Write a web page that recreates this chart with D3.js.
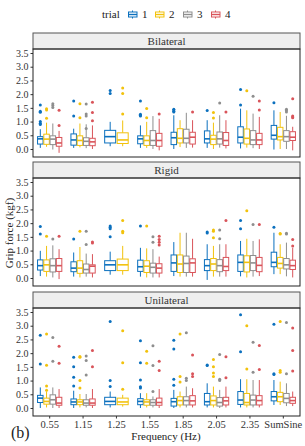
<!DOCTYPE html>
<meta charset="utf-8">
<style>
body { margin: 0; background: #fff; }
text { font-family: "Liberation Serif", "DejaVu Serif", serif; fill: #222; }
.strip text { font-size: 11px; fill: #333; }
.yaxis text { font-size: 10px; fill: #333; }
.xaxis text { font-size: 10.5px; fill: #333; }
</style>
<svg width="305" height="446"></svg>
<script src="https://cdnjs.cloudflare.com/ajax/libs/d3/7.8.5/d3.min.js"></script>
<script>
// categories and trials
var freqs = ["0.55", "1.15", "1.25", "1.55", "1.85", "2.05", "2.35", "SumSine"];
var trials = [1, 2, 3, 4];
var colors = ["#0b70be", "#f2c20c", "#8e8e8e", "#d9545a"];
var conditions = ["Bilateral", "Rigid", "Unilateral"];
var yTicks = [0, 0.5, 1, 1.5, 2, 2.5, 3, 3.5];

// rows: [freq, trial, whiskerLow, q1, median, q3, whiskerHigh, outliers]
var bilateral = [
  ["0.55", 1, 0.04, 0.18, 0.37, 0.45, 0.72, [1.6, 1.38, 1.34, 1.0, 0.94, 0.89]],
  ["0.55", 2, 0.08, 0.17, 0.36, 0.54, 0.96, [1.47, 1.42, 1.12]],
  ["0.55", 3, -0.02, 0.16, 0.36, 0.48, 0.93, [1.65, 1.59, 1.51]],
  ["0.55", 4, -0.14, 0.1, 0.22, 0.42, 0.66, [1.41, 0.86]],
  ["1.15", 1, 0.04, 0.14, 0.33, 0.55, 0.74, [1.75, 1.2]],
  ["1.15", 2, 0.06, 0.13, 0.31, 0.48, 0.93, [1.65, 1.14]],
  ["1.15", 3, 0.03, 0.13, 0.28, 0.41, 0.9, [1.64, 1.28, 1.2, 0.75]],
  ["1.15", 4, 0.0, 0.12, 0.26, 0.39, 0.86, [1.7, 1.33, 1.03]],
  ["1.25", 1, 0.1, 0.22, 0.45, 0.68, 0.99, [2.13, 2.02]],
  ["1.25", 2, 0.1, 0.2, 0.33, 0.59, 1.04, [2.22, 2.02, 1.28]],
  ["1.55", 1, 0.04, 0.19, 0.37, 0.48, 0.86, [1.75, 1.27, 1.23, 1.2]],
  ["1.55", 2, 0.04, 0.13, 0.31, 0.48, 0.99, [1.48, 1.14]],
  ["1.55", 3, 0.0, 0.13, 0.31, 0.67, 1.2, []],
  ["1.55", 4, -0.05, 0.1, 0.31, 0.57, 1.1, [1.28]],
  ["1.85", 1, 0.0, 0.16, 0.41, 0.61, 1.23, [1.45, 1.42, 1.38, 1.35]],
  ["1.85", 2, 0.07, 0.22, 0.39, 0.74, 1.05, []],
  ["1.85", 3, 0.04, 0.22, 0.39, 0.72, 1.32, []],
  ["1.85", 4, 0.05, 0.18, 0.43, 0.61, 1.05, [1.35]],
  ["2.05", 1, 0.04, 0.22, 0.37, 0.66, 1.05, [1.4]],
  ["2.05", 2, 0.0, 0.16, 0.36, 0.5, 0.96, [1.33, 1.13]],
  ["2.05", 3, 0.05, 0.18, 0.37, 0.62, 1.23, [1.68]],
  ["2.05", 4, 0.02, 0.13, 0.31, 0.6, 1.05, [1.35]],
  ["2.35", 1, 0.02, 0.22, 0.43, 0.81, 1.47, [2.17, 1.6]],
  ["2.35", 2, 0.05, 0.18, 0.39, 0.73, 1.41, [2.12]],
  ["2.35", 3, 0.03, 0.16, 0.33, 0.67, 1.29, [1.92]],
  ["2.35", 4, 0.0, 0.16, 0.33, 0.57, 1.17, [1.75, 1.42]],
  ["SumSine", 1, -0.02, 0.36, 0.5, 0.86, 1.41, [1.69]],
  ["SumSine", 2, 0.0, 0.33, 0.45, 0.79, 1.35, []],
  ["SumSine", 3, 0.0, 0.28, 0.45, 0.67, 1.21, [1.45, 1.4, 1.35]],
  ["SumSine", 4, -0.05, 0.31, 0.43, 0.63, 0.81, [1.83, 1.2, 1.17, 1.14]]
];

var rigid = [
  ["0.55", 1, 0.07, 0.29, 0.45, 0.66, 0.99, [1.88, 1.6]],
  ["0.55", 2, 0.05, 0.24, 0.48, 0.66, 1.17, [1.52]],
  ["0.55", 3, 0.02, 0.22, 0.45, 0.7, 1.19, [1.42]],
  ["0.55", 4, -0.04, 0.24, 0.45, 0.71, 1.05, [1.52]],
  ["1.15", 1, 0.05, 0.23, 0.36, 0.59, 0.93, [1.42]],
  ["1.15", 2, 0.02, 0.17, 0.36, 0.63, 1.13, [1.7]],
  ["1.15", 3, 0.05, 0.18, 0.31, 0.51, 0.89, [1.7, 1.22]],
  ["1.15", 4, 0.02, 0.18, 0.43, 0.48, 0.87, [1.31, 1.28]],
  ["1.25", 1, 0.12, 0.27, 0.48, 0.63, 0.96, [1.9, 1.85, 1.8, 1.5]],
  ["1.25", 2, 0.12, 0.27, 0.48, 0.69, 1.17, [2.1, 1.7, 1.65]],
  ["1.55", 1, 0.05, 0.24, 0.41, 0.65, 1.1, [1.9]],
  ["1.55", 2, 0.02, 0.2, 0.43, 0.63, 1.08, [1.9]],
  ["1.55", 3, 0.02, 0.18, 0.39, 0.54, 1.05, [1.5, 1.3]],
  ["1.55", 4, 0.02, 0.18, 0.36, 0.52, 0.78, [1.52, 1.4, 1.3, 1.2]],
  ["1.85", 1, 0.07, 0.24, 0.55, 0.84, 1.31, []],
  ["1.85", 2, 0.05, 0.2, 0.51, 0.84, 1.65, []],
  ["1.85", 3, 0.05, 0.2, 0.53, 0.8, 1.65, []],
  ["1.85", 4, 0.05, 0.2, 0.55, 0.7, 1.43, []],
  ["2.05", 1, -0.07, 0.27, 0.45, 0.67, 1.23, [1.68, 1.64]],
  ["2.05", 2, 0.05, 0.27, 0.51, 0.71, 1.17, [1.75, 1.7, 1.47]],
  ["2.05", 3, 0.05, 0.23, 0.45, 0.67, 1.23, [1.75, 1.43]],
  ["2.05", 4, 0.05, 0.27, 0.42, 0.75, 1.23, [2.1]],
  ["2.35", 1, 0.06, 0.24, 0.57, 0.84, 1.35, [2.1, 1.8]],
  ["2.35", 2, 0.02, 0.22, 0.57, 0.81, 1.43, [2.45]],
  ["2.35", 3, 0.05, 0.27, 0.55, 0.82, 1.35, [1.95]],
  ["2.35", 4, 0.07, 0.23, 0.46, 0.75, 1.41, [1.95]],
  ["SumSine", 1, 0.14, 0.41, 0.57, 0.94, 1.65, [1.85]],
  ["SumSine", 2, 0.14, 0.36, 0.53, 0.75, 1.23, [1.62, 1.6]],
  ["SumSine", 3, 0.06, 0.33, 0.48, 0.71, 1.29, [1.63, 1.6]],
  ["SumSine", 4, 0.02, 0.31, 0.45, 0.65, 1.1, [1.4, 1.17]]
];

var unilateral = [
  ["0.55", 1, 0.0, 0.2, 0.36, 0.46, 0.75, [2.65, 1.6]],
  ["0.55", 2, 0.02, 0.14, 0.24, 0.36, 0.6, [2.7, 1.56, 0.8, 0.65]],
  ["0.55", 3, 0.0, 0.14, 0.3, 0.48, 0.75, [2.57, 1.7]],
  ["0.55", 4, 0.0, 0.1, 0.18, 0.39, 0.69, [2.25, 1.63]],
  ["1.15", 1, 0.0, 0.12, 0.22, 0.33, 0.63, [1.85, 1.5, 1.12, 0.8]],
  ["1.15", 2, 0.02, 0.12, 0.22, 0.3, 0.51, [1.88, 1.85, 1.0, 0.73]],
  ["1.15", 3, 0.02, 0.1, 0.18, 0.3, 0.51, [1.9, 1.73, 1.2]],
  ["1.15", 4, 0.0, 0.1, 0.18, 0.33, 0.69, [2.1, 1.5]],
  ["1.25", 1, 0.02, 0.12, 0.24, 0.39, 0.6, [3.15, 1.0, 0.78]],
  ["1.25", 2, 0.05, 0.12, 0.22, 0.36, 0.48, [2.82, 1.65, 0.68]],
  ["1.55", 1, 0.0, 0.12, 0.24, 0.34, 0.54, [2.45, 1.65, 1.02, 0.77, 0.73]],
  ["1.55", 2, 0.02, 0.1, 0.22, 0.3, 0.54, [2.07, 1.63]],
  ["1.55", 3, 0.02, 0.1, 0.2, 0.3, 0.42, [2.27, 1.55, 0.6]],
  ["1.55", 4, 0.0, 0.1, 0.2, 0.36, 0.69, [1.7, 1.37]],
  ["1.85", 1, 0.0, 0.07, 0.23, 0.35, 0.66, [2.47, 2.15, 1.05, 0.83]],
  ["1.85", 2, 0.02, 0.11, 0.27, 0.41, 0.6, [2.7, 1.15, 0.95]],
  ["1.85", 3, 0.02, 0.11, 0.27, 0.41, 0.78, [2.74, 1.08, 1.0]],
  ["1.85", 4, 0.02, 0.11, 0.26, 0.45, 0.72, [1.93, 1.25, 1.15]],
  ["2.05", 1, 0.02, 0.11, 0.23, 0.53, 0.9, [1.57, 1.55]],
  ["2.05", 2, 0.02, 0.11, 0.27, 0.44, 0.78, [1.77, 1.5, 1.28, 1.15]],
  ["2.05", 3, 0.0, 0.07, 0.2, 0.38, 0.66, [1.95, 1.05, 1.0]],
  ["2.05", 4, 0.02, 0.11, 0.26, 0.39, 0.78, [1.87, 1.1]],
  ["2.35", 1, 0.02, 0.13, 0.29, 0.6, 1.05, [3.4, 2.05]],
  ["2.35", 2, 0.02, 0.11, 0.2, 0.53, 1.05, [3.0, 1.42]],
  ["2.35", 3, 0.02, 0.11, 0.29, 0.47, 1.02, [2.4, 1.3]],
  ["2.35", 4, 0.02, 0.11, 0.27, 0.45, 1.02, [2.28, 1.4]],
  ["SumSine", 1, 0.11, 0.26, 0.41, 0.6, 1.02, [3.05, 1.25, 1.22]],
  ["SumSine", 2, 0.11, 0.23, 0.41, 0.57, 0.96, [3.15, 1.37, 1.3]],
  ["SumSine", 3, 0.07, 0.19, 0.35, 0.53, 0.9, [3.12, 1.25]],
  ["SumSine", 4, 0.07, 0.17, 0.27, 0.39, 0.6, [2.92, 2.1, 1.35]]
];

var panelData = [bilateral, rigid, unilateral];

var svg = d3.select("svg");
var left = 33, right = 300;
var stripTops = [33, 162, 292], stripH = 16, panelH = 108;

var x = d3.scaleBand().domain(freqs).range([left, right]).padding(0);

// legend
var leg = svg.append("g");
leg.append("text").attr("x", 102).attr("y", 18).style("font-size", "11px").text("trial");
var legX = [128, 155, 183, 211];
trials.forEach(function(t, i) {
  var g = leg.append("g").attr("transform", "translate(" + legX[i] + ",0)");
  g.append("line").attr("x1", 4.5).attr("x2", 4.5).attr("y1", 10.5).attr("y2", 18.5)
    .attr("stroke", colors[i]).attr("stroke-width", 1);
  g.append("rect").attr("x", 0.5).attr("y", 12).attr("width", 8.5).attr("height", 5)
    .attr("fill", "#fff").attr("stroke", colors[i]).attr("stroke-width", 1);
  g.append("line").attr("x1", 0.5).attr("x2", 9).attr("y1", 14.5).attr("y2", 14.5)
    .attr("stroke", colors[i]).attr("stroke-width", 1.4);
  leg.append("text").attr("x", legX[i] + 14).attr("y", 18).style("font-size", "11px").text(t);
});

conditions.forEach(function(cond, p) {
  var top = stripTops[p] + stripH, bottom = top + panelH;
  var y = d3.scaleLinear().domain([-0.292, 3.646]).range([bottom, top]);
  var rows = panelData[p];

  // strip
  var strip = svg.append("g").attr("class", "strip");
  strip.append("rect").attr("x", left).attr("y", stripTops[p]).attr("width", right - left).attr("height", stripH)
    .attr("fill", "#efefef").attr("stroke", "#555").attr("stroke-width", 1);
  strip.append("text").attr("x", (left + right) / 2).attr("y", stripTops[p] + 11.5)
    .attr("text-anchor", "middle").text(cond);

  // y axis
  var ya = svg.append("g").attr("class", "yaxis").attr("transform", "translate(" + left + ",0)")
    .call(d3.axisLeft(y).tickValues(yTicks).tickFormat(d3.format(".1f")).tickSize(2.5).tickPadding(2));
  ya.select(".domain").remove();
  ya.selectAll("line").attr("stroke", "#333");

  var g = svg.append("g");
  rows.forEach(function(r) {
    var cat = r[0], t = r[1];
    var present = rows.filter(function(d) { return d[0] === cat; }).map(function(d) { return d[1]; });
    var n = present.length, k = present.indexOf(t);
    var bw = x.bandwidth() * 0.75;
    var slot = bw / n;
    var cx = x(cat) + (x.bandwidth() - bw) / 2 + slot * (k + 0.5);
    var w = slot * 0.88;
    var c = colors[t - 1];
    g.append("line").attr("x1", cx).attr("x2", cx).attr("y1", y(r[6])).attr("y2", y(r[5]))
      .attr("stroke", c).attr("stroke-width", 1);
    g.append("line").attr("x1", cx).attr("x2", cx).attr("y1", y(r[3])).attr("y2", y(r[2]))
      .attr("stroke", c).attr("stroke-width", 1);
    g.append("rect").attr("x", cx - w / 2).attr("y", y(r[5])).attr("width", w).attr("height", y(r[3]) - y(r[5]))
      .attr("fill", "#fff").attr("fill-opacity", 0.6).attr("stroke", c).attr("stroke-width", 1);
    g.append("line").attr("x1", cx - w / 2).attr("x2", cx + w / 2).attr("y1", y(r[4])).attr("y2", y(r[4]))
      .attr("stroke", c).attr("stroke-width", 1.6);
    r[7].forEach(function(o) {
      g.append("circle").attr("cx", cx).attr("cy", y(o)).attr("r", 1.5).attr("fill", c);
    });
  });

  // panel border
  svg.append("rect").attr("x", left).attr("y", top).attr("width", right - left).attr("height", panelH)
    .attr("fill", "none").attr("stroke", "#222").attr("stroke-width", 1);

  if (p === 2) {
    var xa = svg.append("g").attr("class", "xaxis").attr("transform", "translate(0," + bottom + ")")
      .call(d3.axisBottom(x).tickSize(2.5).tickPadding(2));
    xa.select(".domain").remove();
    xa.selectAll("line").attr("stroke", "#333");
  }
});

svg.append("text").attr("x", 166).attr("y", 439.5).attr("text-anchor", "middle")
  .style("font-size", "11px").text("Frequency (Hz)");
svg.append("text").attr("transform", "translate(13,233) rotate(-90)").attr("text-anchor", "middle")
  .style("font-size", "11px").text("Grip force (kgf)");
svg.append("text").attr("x", 11).attr("y", 438).style("font-size", "16px").text("(b)");
</script>
